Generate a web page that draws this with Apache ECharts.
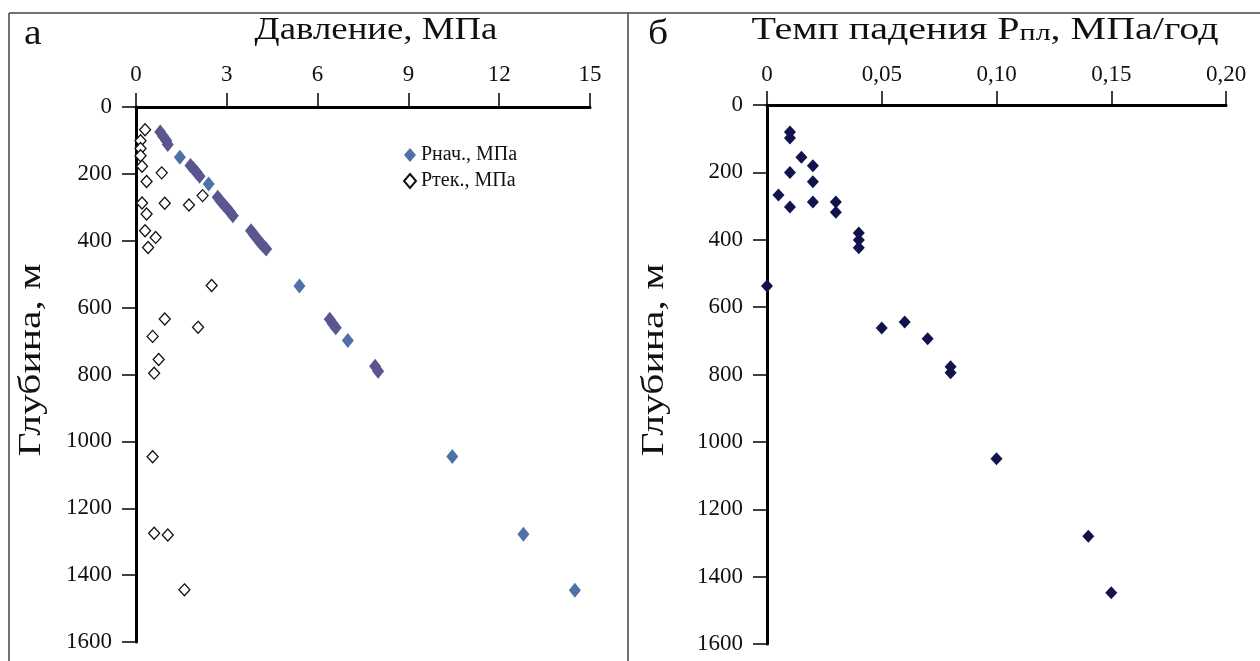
<!DOCTYPE html>
<html>
<head>
<meta charset="utf-8">
<script src="https://cdn.jsdelivr.net/npm/echarts@6/dist/echarts.min.js"></script>
<style>
  html, body { margin: 0; padding: 0; background: #fff; }
  #chart { width: 1260px; height: 661px; }
</style>
</head>
<body>
<div id="chart"></div>
<script>
// панель а: давление (МПа) от глубины (м)
const pressureTicks = [0, 3, 6, 9, 12, 15]
const depthTicks = [0, 200, 400, 600, 800, 1000, 1200, 1400, 1600]
// Рнач., МПа — отдельные точки
const pInitial = [
    [1.45, 150], [2.4, 230], [5.4, 535], [7.0, 698],
    [10.45, 1045], [12.8, 1278], [14.5, 1445]
]
// Рнач., МПа — плотные группы точек
const pInitialDense = [
    [0.8, 75], [0.9, 88], [1.0, 100], [1.05, 112],
    [1.8, 175], [1.9, 185], [2.0, 195], [2.1, 207],
    [2.7, 270], [2.8, 282], [2.9, 292], [3.0, 302], [3.1, 313], [3.2, 325],
    [3.8, 370], [3.9, 382], [4.0, 393], [4.1, 405], [4.2, 415], [4.3, 425],
    [6.4, 635], [6.5, 648], [6.6, 660],
    [7.9, 775], [8.0, 790]
]
// Ртек., МПа
const pCurrent = [
    [0.3, 68], [0.15, 101], [0.15, 124], [0.15, 146], [0.2, 177],
    [0.85, 197], [0.35, 223], [2.2, 265], [0.2, 287], [0.95, 288],
    [1.75, 293], [0.35, 320], [0.3, 370], [0.65, 390], [0.4, 420],
    [2.5, 534], [0.95, 634], [2.05, 659], [0.55, 686], [0.75, 755],
    [0.6, 796], [0.55, 1046], [0.6, 1275], [1.05, 1280], [1.6, 1444]
]
// панель б: темп падения Рпл (МПа/год) от глубины (м)
const rateTicks = [0, 0.05, 0.10, 0.15, 0.20]
const dropRate = [
    [0.01, 80], [0.01, 98], [0.015, 155], [0.02, 180], [0.01, 200],
    [0.02, 228], [0.005, 267], [0.02, 288], [0.01, 303], [0.03, 288],
    [0.03, 318], [0.04, 380], [0.04, 401], [0.04, 424], [0, 537],
    [0.05, 662], [0.06, 644], [0.07, 694], [0.08, 777], [0.08, 795],
    [0.1, 1050], [0.14, 1280], [0.15, 1448]
]

const serif = '"Liberation Serif", "DejaVu Serif", serif'
const axisLine = { show: true, lineStyle: { color: '#000', width: 3 } }
const axisTick = { show: true, inside: false, length: 14, lineStyle: { color: '#000', width: 1.5 } }
const tickFont = { fontFamily: serif, fontSize: 23, color: '#111' }

const chart = echarts.init(document.getElementById('chart'))
const option = {
    backgroundColor: '#fff',
    animation: false,
    grid: [
        { left: 136, top: 107, width: 454, height: 535 },
        { left: 767, top: 105, width: 459, height: 539 }
    ],
    legend: {
        left: 398, top: 140, orient: 'vertical', itemGap: 6,
        itemWidth: 12, itemHeight: 14,
        textStyle: { fontFamily: serif, fontSize: 20, color: '#111' },
        data: ['Рнач., МПа', 'Ртек., МПа']
    },
    xAxis: [
        {
            gridIndex: 0, type: 'value', position: 'top',
            min: pressureTicks[0], max: pressureTicks[pressureTicks.length - 1], interval: 3,
            axisLine, axisTick, splitLine: { show: false },
            axisLabel: { margin: 21, ...tickFont }
        },
        {
            gridIndex: 1, type: 'value', position: 'top',
            min: rateTicks[0], max: rateTicks[rateTicks.length - 1], interval: 0.05,
            axisLine, axisTick, splitLine: { show: false },
            axisLabel: {
                margin: 19, ...tickFont,
                formatter: v => v === 0 ? '0' : v.toFixed(2).replace('.', ',')
            }
        }
    ],
    yAxis: [0, 1].map(i => ({
        gridIndex: i, type: 'value', inverse: true,
        min: depthTicks[0], max: depthTicks[depthTicks.length - 1], interval: 200,
        axisLine, axisTick, splitLine: { show: false },
        axisLabel: { margin: 24, ...tickFont, formatter: v => String(v) }
    })),
    series: [
        {
            name: 'Рнач., МПа', type: 'scatter', xAxisIndex: 0, yAxisIndex: 0,
            symbol: 'diamond', symbolSize: [12, 15],
            itemStyle: { color: '#4f72a6', opacity: 1 },
            data: pInitial, z: 3
        },
        {
            name: 'Рнач., МПа (группы)', type: 'scatter', xAxisIndex: 0, yAxisIndex: 0,
            symbol: 'diamond', symbolSize: [12, 15],
            itemStyle: { color: '#5a5690', opacity: 1 },
            data: pInitialDense, z: 3
        },
        {
            name: 'Ртек., МПа', type: 'scatter', xAxisIndex: 0, yAxisIndex: 0,
            symbol: 'diamond', symbolSize: [11, 12],
            itemStyle: { color: '#fff', borderColor: '#111', borderWidth: 1.3, opacity: 1 },
            data: pCurrent, z: 2
        },
        {
            name: 'Темп падения', type: 'scatter', xAxisIndex: 1, yAxisIndex: 1,
            symbol: 'diamond', symbolSize: [12, 13],
            itemStyle: { color: '#12124e', opacity: 1 },
            data: dropRate
        }
    ],
    graphic: [
        { type: 'line', shape: { x1: 9, y1: 13, x2: 1260, y2: 13 }, style: { stroke: '#444', lineWidth: 1.5 } },
        { type: 'line', shape: { x1: 9, y1: 13, x2: 9, y2: 661 }, style: { stroke: '#444', lineWidth: 1.5 } },
        { type: 'line', shape: { x1: 628, y1: 13, x2: 628, y2: 661 }, style: { stroke: '#444', lineWidth: 1.5 } },
        { type: 'text', x: 24, y: 17, scaleX: 1.1, style: { text: 'а', font: '36px ' + serif, fill: '#111' } },
        { type: 'text', x: 648, y: 17, scaleX: 1.1, style: { text: 'б', font: '36px ' + serif, fill: '#111' } },
        {
            type: 'text', x: 376, y: 31, scaleX: 1.15,
            style: { text: 'Давление, МПа', font: '32px ' + serif, fill: '#111', align: 'center', verticalAlign: 'middle' }
        },
        {
            type: 'text', x: 985, y: 31, scaleX: 1.25,
            style: {
                text: '{a|Темп падения Р}{s|пл}{a|, МПа/год}', align: 'center', verticalAlign: 'middle', fill: '#111',
                rich: {
                    a: { fontFamily: serif, fontSize: 32, color: '#111' },
                    s: { fontFamily: serif, fontSize: 24, color: '#111', padding: [6, 0, 0, 0] }
                }
            }
        },
        {
            type: 'text', x: 32, y: 360, rotation: Math.PI / 2, scaleX: 1.3,
            style: { text: 'Глубина, м', font: '32px ' + serif, fill: '#111', align: 'center', verticalAlign: 'middle' }
        },
        {
            type: 'text', x: 655, y: 360, rotation: Math.PI / 2, scaleX: 1.3,
            style: { text: 'Глубина, м', font: '32px ' + serif, fill: '#111', align: 'center', verticalAlign: 'middle' }
        }
    ]
}
chart.setOption(option)
</script>
</body>
</html>
